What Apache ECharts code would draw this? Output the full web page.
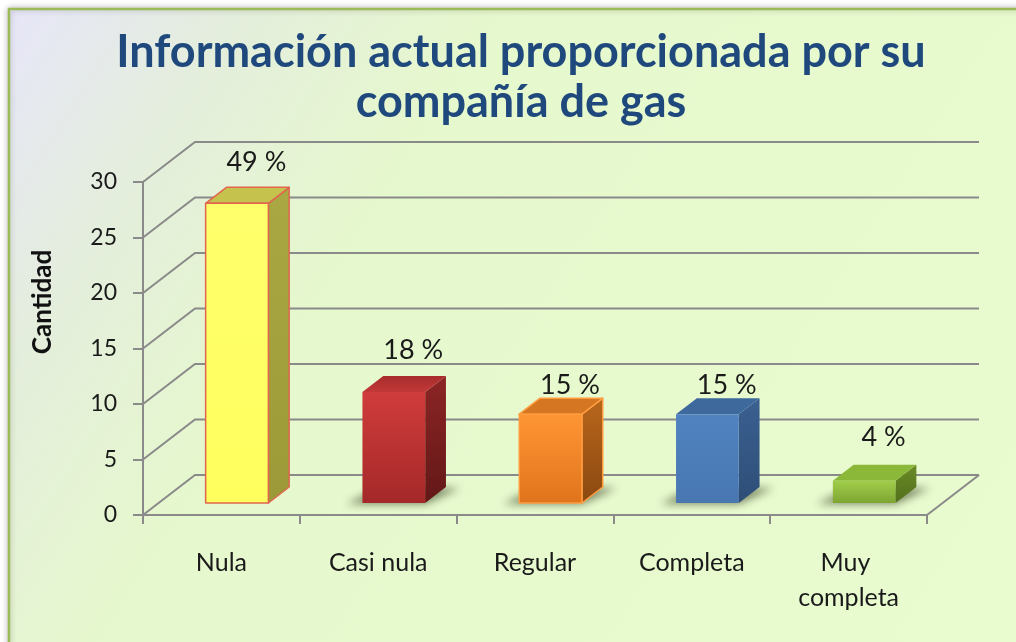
<!DOCTYPE html>
<html>
<head>
<meta charset="utf-8">
<title>Información actual proporcionada por su compañía de gas</title>
<script src="https://cdn.jsdelivr.net/npm/echarts@6/dist/echarts.min.js"></script>
<style>
  html, body { margin: 0; padding: 0; background: #ffffff; }
  #chart { width: 1016px; height: 642px; }
</style>
</head>
<body>
<div id="chart"></div>
<script>
// Survey answers: how complete is the information given by the gas company
const categories = ['Nula', 'Casi nula', 'Regular', 'Completa', 'Muy completa'];
const counts = [27, 10, 8, 8, 2];
const yTicks = [0, 5, 10, 15, 20, 25, 30];

const total = counts.reduce((a, b) => a + b, 0);
const percentText = v => Math.round(v / total * 100) + ' %';

// Oblique projection of the plot depth (back wall offset from the front plane)
const DX = 52, DY = -40;
// Bars occupy the middle slice of the depth
const FRONT = 0.3, BACK = 0.7;
const FONT = 'Lato, "Open Sans", sans-serif';

const lin = (a, b) => ({
  type: 'linear', x: 0, y: 0, x2: 0, y2: 1,
  colorStops: [{ offset: 0, color: a }, { offset: 1, color: b }]
});

// Face colours for each box: front, side, top, outline
const barStyles = [
  { front: lin('#FFFF6C', '#FFFF5E'), side: lin('#AAA842', '#9C9A38'), top: '#C6C24E', stroke: '#E0664F', lw: 1.5, shadow: false },
  { front: lin('#D03C3C', '#A52828'), side: lin('#8C2525', '#631717'), top: lin('#A72C2C', '#C23838'), stroke: null, lw: 0, shadow: true },
  { front: lin('#FF9634', '#E0741C'), side: lin('#B9671C', '#8A4810'), top: '#D47622', stroke: '#FF9C40', lw: 1.5, shadow: true },
  { front: lin('#5083C0', '#4877B2'), side: lin('#3A6091', '#2E4E77'), top: '#3D699D', stroke: null, lw: 0, shadow: true },
  { front: lin('#A0CD4A', '#7EA532'), side: lin('#6A8A26', '#53701C'), top: '#8CB83A', stroke: null, lw: 0, shadow: true }
];
// Distance of each value label above its box
const labelGap = [41, 42, 29, 29, 44];

const chart = echarts.init(document.getElementById('chart'), null, { renderer: 'canvas' });

const option = {
  backgroundColor: '#ffffff',
  animation: false,
  textStyle: { fontFamily: FONT },
  title: {
    text: 'Información actual proporcionada por su\ncompañía de gas',
    left: 516,
    top: 22,
    textAlign: 'center',
    textStyle: {
      fontFamily: FONT,
      fontWeight: 'bold',
      fontSize: 45,
      lineHeight: 50,
      color: '#1F497D'
    }
  },
  graphic: [
    {
      type: 'rect',
      z: -10,
      silent: true,
      shape: { x: 9, y: 9, width: 1040, height: 660 },
      style: {
        fill: {
          type: 'linear', x: 0, y: 0, x2: 1, y2: 1,
          colorStops: [
            { offset: 0, color: '#E7E6F9' },
            { offset: 0.16, color: '#E4EEDC' },
            { offset: 0.34, color: '#E6F8CD' },
            { offset: 1, color: '#E9FCCF' }
          ]
        },
        stroke: '#9BBB59',
        lineWidth: 2.5,
        shadowBlur: 6,
        shadowColor: 'rgba(0,0,0,0.25)'
      }
    },
    {
      type: 'text',
      silent: true,
      x: 43,
      y: 302,
      rotation: Math.PI / 2,
      style: {
        text: 'Cantidad',
        font: 'bold 26px ' + FONT,
        fill: '#111111',
        align: 'center',
        verticalAlign: 'middle'
      }
    }
  ],
  grid: { left: 143, right: 89, top: 182, bottom: 127, containLabel: false },
  xAxis: {
    type: 'category',
    data: categories,
    axisLine: { lineStyle: { color: '#8A8A8A', width: 2 } },
    axisTick: { show: true, interval: 0, length: 9, lineStyle: { color: '#8A8A8A', width: 2 } },
    axisLabel: {
      interval: 0,
      fontFamily: FONT,
      fontSize: 25,
      color: '#1A1A1A',
      margin: 30,
      lineHeight: 35,
      width: 130,
      overflow: 'break'
    },
    splitLine: { show: false }
  },
  yAxis: {
    type: 'value',
    min: 0,
    max: 30,
    interval: 5,
    axisLine: { show: true, lineStyle: { color: '#8A8A8A', width: 2 } },
    axisTick: { show: true, length: 10, lineStyle: { color: '#8A8A8A', width: 2 } },
    axisLabel: {
      fontFamily: FONT,
      fontSize: 23,
      color: '#1A1A1A',
      margin: 26
    },
    splitLine: { show: false }
  },
  series: [
    {
      // back wall gridlines and their slanted side-wall / floor edges
      type: 'custom',
      silent: true,
      z: 1,
      data: yTicks.map(v => [0, v]),
      renderItem: (params, api) => {
        const cs = params.coordSys;
        const v = api.value(1);
        const y = api.coord([0, v])[1];
        const L = cs.x, R = cs.x + cs.width;
        const lineStyle = { stroke: '#8A8A8A', lineWidth: 2, fill: null };
        const children = [{
          type: 'polyline',
          shape: { points: [[L, y], [L + DX, y + DY], [R + DX, y + DY]] },
          style: lineStyle
        }];
        if (v === 0) {
          children.push({
            type: 'polyline',
            shape: { points: [[R, y], [R + DX, y + DY]] },
            style: lineStyle
          });
        }
        return { type: 'group', children };
      }
    },
    {
      // 3D boxes with their floor shadows and percentage labels
      type: 'custom',
      silent: true,
      z: 3,
      data: counts.map((v, i) => [i, v]),
      renderItem: (params, api) => {
        const i = api.value(0);
        const v = api.value(1);
        const base = api.coord([i, 0]);
        const top = api.coord([i, v]);
        const band = api.size([1, 0])[0];
        const hw = band * 0.2;
        const x0 = base[0] - hw + FRONT * DX;
        const x1 = base[0] + hw + FRONT * DX;
        const yb = base[1] + FRONT * DY;
        const yt = top[1] + FRONT * DY;
        const ox = (BACK - FRONT) * DX;
        const oy = (BACK - FRONT) * DY;
        const s = barStyles[i];
        const edge = s.stroke ? { stroke: s.stroke, lineWidth: s.lw, lineJoin: 'round' } : {};
        const children = [];
        if (s.shadow) {
          // soft shadow cast on the floor, drawn off-canvas so only its blur shows
          const off = 3000;
          children.push({
            type: 'polygon',
            shape: {
              points: [
                [x0 - 16 + off, yb + 1],
                [x1 + off, yb + 1],
                [x1 + ox + 14 + off, yb + oy + 1],
                [x0 + ox - 4 + off, yb + oy + 1]
              ]
            },
            style: {
              fill: '#000',
              shadowBlur: 9,
              shadowColor: 'rgba(45,55,25,0.6)',
              shadowOffsetX: -off
            }
          });
        }
        children.push({
          type: 'polygon',
          shape: { points: [[x1, yt], [x1 + ox, yt + oy], [x1 + ox, yb + oy], [x1, yb]] },
          style: Object.assign({ fill: s.side }, edge)
        });
        children.push({
          type: 'polygon',
          shape: { points: [[x0, yt], [x0 + ox, yt + oy], [x1 + ox, yt + oy], [x1, yt]] },
          style: Object.assign({ fill: s.top }, edge)
        });
        children.push({
          type: 'rect',
          shape: { x: x0, y: yt, width: x1 - x0, height: yb - yt },
          style: Object.assign({ fill: s.front }, edge)
        });
        children.push({
          type: 'text',
          x: (x0 + x1 + ox) / 2 + 9,
          y: yt - labelGap[i],
          style: {
            text: percentText(v),
            font: '27px ' + FONT,
            fill: '#1A1A1A',
            align: 'center',
            verticalAlign: 'middle'
          }
        });
        return { type: 'group', children };
      }
    }
  ]
};

chart.setOption(option);
</script>
</body>
</html>
